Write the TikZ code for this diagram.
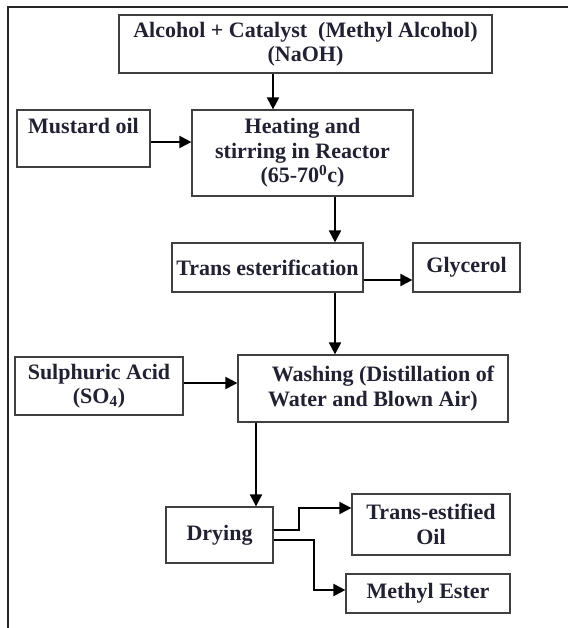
\documentclass[tikz,border=0pt]{standalone}
\usepackage{fontspec}
\setmainfont{Liberation Serif}
\usetikzlibrary{arrows.meta}
\definecolor{inkcol}{rgb}{0.13,0.13,0.2}
\tikzset{
  stage/.style={draw=black!75,line width=1.2pt,inner sep=0pt,align=center,
    text=inkcol,font=\fontsize{22}{24.5}\selectfont\bfseries},
  flow/.style={line width=2pt,-{Triangle[length=12pt,width=12pt]}}
}
\begin{document}
\begin{tikzpicture}[x=1pt,y=-1pt]
  \useasboundingbox (0,0) rectangle (568,628);
  %% frame
  \draw[line width=2pt,black!85] (568,7) -- (8,7) -- (8,628);
  %% stages
  \node[stage,minimum width=373,minimum height=58] (alc) at (305.5,44)
    {Alcohol + Catalyst\ \ (Methyl Alcohol)\\(NaOH)};
  \node[stage,minimum width=133,minimum height=57] (must) at (83.5,138.5)
    {Mustard oil\\\mbox{}};
  \node[stage,minimum width=221,minimum height=86] (heat) at (302.5,153)
    {Heating and\\stirring in Reactor\\(65-70\textsuperscript{0}c)};
  \node[stage,minimum width=191,minimum height=49] (trans) at (267.5,267.5)
    {Trans esterification};
  \node[stage,minimum width=107,minimum height=49] (glyc) at (466.5,267.5)
    {Glycerol};
  \node[stage,minimum width=168,minimum height=58] (sulph) at (99,386)
    {Sulphuric Acid\\(SO\textsubscript{4})};
  \node[stage,minimum width=270,minimum height=67] (wash) at (373,388.5)
    {\hspace*{20pt}Washing (Distillation of\\Water and Blown Air)};
  \node[stage,minimum width=107,minimum height=56] (dry) at (219.5,535)
    {\raisebox{4pt}{Drying}};
  \node[stage,minimum width=158,minimum height=61] (oil) at (431,524.5)
    {Trans-estified\\Oil};
  \node[stage,minimum width=164,minimum height=39] (est) at (428,593.5)
    {Methyl Ester};
  %% feeds
  \coordinate (a1) at ([xshift=-32.5pt]alc.south);
  \draw[flow] (a1) -- (a1 |- heat.north);
  \coordinate (m1) at ([yshift=-3.5pt]must.east);
  \draw[flow] (m1) -- (m1 -| heat.west);
  \coordinate (h1) at ([xshift=32.5pt]heat.south);
  \draw[flow] (h1) -- (h1 |- trans.north);
  \coordinate (t1) at ([yshift=-12.5pt]trans.east);
  \draw[flow] (t1) -- (t1 -| glyc.west);
  \coordinate (t2) at ([xshift=67.5pt]trans.south);
  \draw[flow] (t2) -- (t2 |- wash.north);
  \coordinate (s1) at ([yshift=3pt]sulph.east);
  \draw[flow] (s1) -- (s1 -| wash.west);
  \coordinate (w1) at ([xshift=-117pt]wash.south);
  \draw[flow] (w1) -- (w1 |- dry.north);
  %% products
  \coordinate (d1) at ([yshift=5pt]dry.east);
  \coordinate (o1) at ([yshift=16.5pt]oil.west);
  \draw[flow] (d1) -- ++(25,0) |- (o1);
  \coordinate (d2) at ([yshift=-5pt]dry.east);
  \coordinate (e1) at ([yshift=3.5pt]est.west);
  \draw[flow] (d2) -- ++(40,0) |- (e1);
\end{tikzpicture}
\end{document}
